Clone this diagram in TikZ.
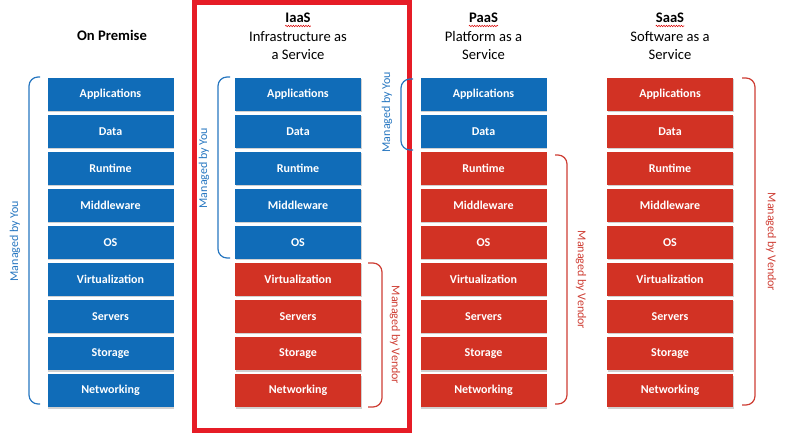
\documentclass[tikz,border=0pt]{standalone}
\usepackage{fontspec}
\setmainfont{Carlito}
\usetikzlibrary{calc,decorations.pathmorphing,shadows}
\definecolor{boxblue}{RGB}{16,108,184}
\definecolor{boxred}{RGB}{210,50,36}
\definecolor{braceblue}{RGB}{38,118,192}
\definecolor{bracered}{RGB}{206,62,52}
\definecolor{framered}{RGB}{230,28,38}
\begin{document}
\begin{tikzpicture}[x=1pt,y=-1pt,
  layer/.style={rectangle,minimum width=126pt,minimum height=33pt,inner sep=0pt,
    text=white,font=\fontsize{12}{14}\selectfont\bfseries,
    drop shadow={shadow xshift=0.8pt,shadow yshift=-1.5pt,opacity=0.3,fill=black!60}},
  head/.style={anchor=base,font=\fontsize{14.6}{18}\selectfont,text=black,inner sep=0pt},
  headb/.style={head,font=\fontsize{14.6}{18}\selectfont\bfseries},
  brb/.style={draw=braceblue,line width=1.2pt,rounded corners=9pt},
  brr/.style={draw=bracered,line width=1.2pt,rounded corners=9pt},
  lblb/.style={text=braceblue,font=\fontsize{12}{14}\selectfont,rotate=90,inner sep=0pt},
  lblr/.style={text=bracered,font=\fontsize{12}{14}\selectfont,rotate=-90,inner sep=0pt},
  spell/.style={draw=red!85!black,line width=0.5pt,decorate,decoration={snake,amplitude=0.7pt,segment length=2.5pt}}
]
\useasboundingbox (0,0) rectangle (800,435);

% frame around IaaS
\draw[draw=framered,line width=5pt] (194.5,2.5) rectangle (409,430.5);

% headers
\node[headb] (hOP) at (112,41) {On Premise};

\node[headb] (hIa1) at (298,23) {IaaS};
\node[head] (hIa2) at (298,42) {Infrastructure as};
\node[head] (hIa3) at (298,60) {a Service};

\node[headb] (hPa1) at (483.5,23) {PaaS};
\node[head] (hPa2) at (483.5,42) {Platform as a};
\node[head] (hPa3) at (483.5,60) {Service};

\node[headb] (hSa1) at (670,23) {SaaS};
\node[head] (hSa2) at (670,42) {Software as a};
\node[head] (hSa3) at (670,60) {Service};

\draw[spell] ($(hIa1.base west)+(0,3)$) -- ($(hIa1.base east)+(0,3)$);
\draw[spell] ($(hPa1.base west)+(0,3)$) -- ($(hPa1.base east)+(0,3)$);
\draw[spell] ($(hSa1.base west)+(0,3)$) -- ($(hSa1.base east)+(0,3)$);

% stacks
\foreach \lbl [count=\k from 0] in {Applications,Data,Runtime,Middleware,OS,Virtualization,Servers,Storage,Networking}{
  \node[layer,fill=boxblue] (op\k) at (110.5,94.5+37*\k) {\lbl};
  \ifnum\k<5 \def\ic{boxblue}\else\def\ic{boxred}\fi
  \node[layer,fill=\ic] (ia\k) at (298,94.5+37*\k) {\lbl};
  \ifnum\k<2 \def\pc{boxblue}\else\def\pc{boxred}\fi
  \node[layer,fill=\pc] (pa\k) at (483.5,94.5+37*\k) {\lbl};
  \node[layer,fill=boxred] (sa\k) at (670,94.5+37*\k) {\lbl};
}

% braces and labels
\draw[brb] (40,77) -- (29,77) -- (29,404) -- (40,404);
\node[lblb] (mOP) at (15,241) {Managed by You};

\draw[brb] (230,77) -- (218,77) -- (218,258) -- (230,258);
\node[lblb] (mIaY) at (204,168) {Managed by You};

\draw[brr] (368,263) -- (382,263) -- (382,407) -- (368,407);
\node[lblr] (mIaV) at (395,335) {Managed by Vendor};

\draw[brb] (413,79) -- (401,79) -- (401,150) -- (413,150);
\node[lblb] (mPaY) at (387,112) {Managed by You};

\draw[brr] (555,155) -- (567,155) -- (567,404) -- (555,404);
\node[lblr] (mPaV) at (581,280) {Managed by Vendor};

\draw[brr] (742,78) -- (755,78) -- (755,405) -- (742,405);
\node[lblr] (mSaV) at (771,242) {Managed by Vendor};
\end{tikzpicture}
\end{document}
